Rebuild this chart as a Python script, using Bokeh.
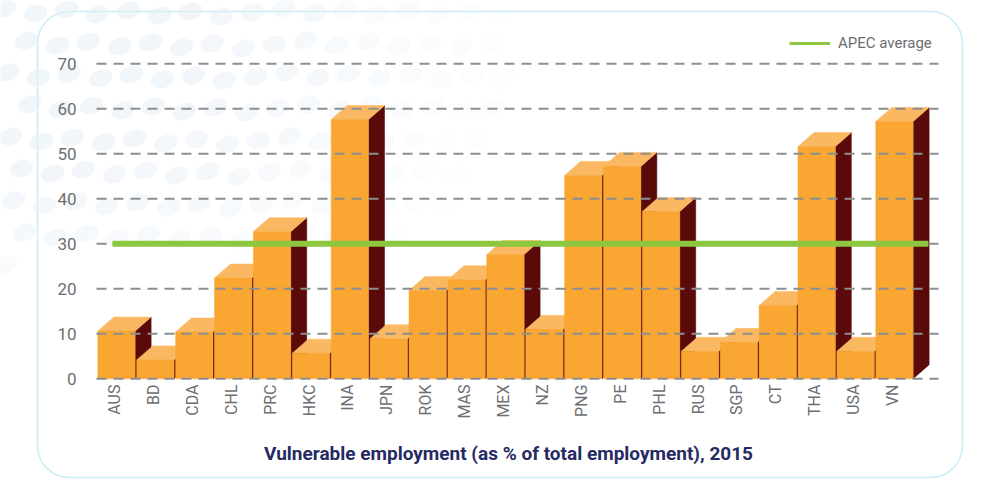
import numpy as np
from bokeh.plotting import figure
from bokeh.models import Range1d, BoxAnnotation, Legend, LegendItem
from bokeh.core.properties import value
from bokeh.embed import file_html
from bokeh.resources import INLINE

# ---------------- data ----------------
categories = ["AUS", "BD", "CDA", "CHL", "PRC", "HKC", "INA", "JPN", "ROK", "MAS", "MEX",
              "NZ", "PNG", "PE", "PHL", "RUS", "SGP", "CT", "THA", "USA", "VN"]
vulnerable = [10.6, 4.2, 10.4, 22.4, 32.7, 5.7, 57.6, 8.9, 19.6, 22.0, 27.6,
              11.0, 45.2, 47.2, 37.2, 6.1, 8.1, 16.3, 51.6, 6.1, 57.2]
apec_average = 30
y_ticks = [0, 10, 20, 30, 40, 50, 60, 70]
y_tick_labels = ["0", "10", "20", "30", "40", "50", "60", "70"]
title_text = "Vulnerable employment (as % of total employment), 2015"
legend_label = "APEC average"

# ---------------- layout constants (pixels) ----------------
W, H = 990, 492
OFF = 0                       # observed offset of the figure on the page
PX_X = 38.9                   # pixels per category
PX_Y = 4.5                    # pixels per percentage point
X0_PAGE = 97.3                # left edge of first category on the page
Y0_PAGE = 378.3               # zero line on the page

def dx(page_x):
    return (page_x - X0_PAGE) / PX_X

def dy(page_y):
    return (Y0_PAGE - page_y) / PX_Y

x_start = dx(OFF)
y_start = dy(OFF + H)
p = figure(width=W, height=H, output_backend="svg", toolbar_location=None,
           x_range=Range1d(x_start, x_start + W / PX_X),
           y_range=Range1d(y_start, y_start + H / PX_Y),
           x_axis_location=None, y_axis_location=None, min_border=0,
           outline_line_color=None, background_fill_color="white",
           border_fill_color="white")
p.xgrid.visible = False
p.ygrid.visible = False

FONT = value("Roboto")
GRAY = "#6D6E71"

# ---------------- decorative dots (background) ----------------
dots_x, dots_y, dots_a = [], [], []
for r in range(0, 10):
    for c in range(0, 20):
        px = c * 31 + (15 if r % 2 else 0) + 4 + (r * 7) % 11
        py = r * 32 + 8 + (c * 5) % 9
        d = np.hypot(px * 0.85, (py - 60) * 1.5)
        a = 1.0 - d / 480.0
        if a > 0.08 and py < 265:
            dots_x.append(dx(px)); dots_y.append(dy(py)); dots_a.append(min(0.55, a * 0.8))
p.ellipse(x=dots_x, y=dots_y, width=24 / PX_X, height=17 / PX_Y, angle=0.3,
          fill_color="#E6EEF6", fill_alpha=dots_a, line_color=None)

# ---------------- rounded frame ----------------
box = BoxAnnotation(left=dx(37), right=dx(962), top=dy(11), bottom=dy(477),
                    fill_alpha=0, line_color="#55C3E3", line_width=1.5,
                    border_radius=32, level="underlay")
p.add_layout(box)

# ---------------- 3D bars ----------------
idx = np.arange(len(categories))
vals = np.array(vulnerable)
FW = 0.96                     # front face width (fraction of category)
DEPTH_X = 16 / PX_X
DEPTH_Y = 14 / PX_Y

side_xs, side_ys, top_xs, top_ys = [], [], [], []
for i, v in zip(idx, vals):
    x0 = i
    x1 = i + FW
    side_xs.append([x1, x1 + DEPTH_X, x1 + DEPTH_X, x1])
    side_ys.append([0, DEPTH_Y, v + DEPTH_Y, v])
    top_xs.append([x0, x1, x1 + DEPTH_X, x0 + DEPTH_X])
    top_ys.append([v, v, v + DEPTH_Y, v + DEPTH_Y])

p.patches(xs=side_xs, ys=side_ys, fill_color="#5B0A0A", line_color="#5B0A0A", line_width=0.5)
p.patches(xs=top_xs, ys=top_ys, fill_color="#FBB862", line_color="#FBB862", line_width=0.5)
p.quad(left=idx, right=idx + FW, bottom=0, top=vals, fill_color="#F9A633",
       line_color="#F9A633", line_width=0.5)

# ---------------- dashed grid (over bars) ----------------
p.segment(x0=dx(96), x1=dx(938), y0=y_ticks, y1=y_ticks, line_color="#8C8E91",
          line_width=2, line_dash="10 7")

# ---------------- APEC average ----------------
avg_x = [idx[0] + 0.38, idx[-1] + 1.35]
avg_y = [apec_average, apec_average]
legend_glyph = p.line(x=avg_x, y=avg_y, line_color="#8DC63F", line_width=3)
p.line(x=avg_x, y=avg_y, line_color="#8DC63F", line_width=6)

legend = Legend(items=[LegendItem(label=legend_label, renderers=[legend_glyph])],
                location=(789 - OFF, H - (52 - OFF)), orientation="horizontal",
                glyph_width=41, glyph_height=18, label_height=18, label_standoff=8,
                padding=0, margin=0, spacing=0, border_line_alpha=0,
                background_fill_alpha=0, label_text_font="Roboto",
                label_text_font_size="15px", label_text_color=GRAY)
p.add_layout(legend)

# ---------------- tick labels ----------------
p.text(x=[dx(76)] * len(y_ticks), y=y_ticks, text=y_tick_labels, text_align="right",
       text_baseline="middle", text_font=FONT, text_font_size="17px",
       text_color=GRAY)
p.text(x=idx + FW / 2 - 0.05, y=[dy(384)] * len(categories), text=categories,
       angle=np.pi / 2, text_align="right", text_baseline="middle",
       text_font=FONT, text_font_size="16px", text_color=GRAY)

# ---------------- title ----------------
p.text(x=[dx(508)], y=[dy(453)], text=[title_text], text_align="center",
       text_baseline="alphabetic", text_font=FONT, text_font_style="bold",
       text_font_size="19px", text_color="#262A63")

open("out.html", "w").write(file_html(p, INLINE))
